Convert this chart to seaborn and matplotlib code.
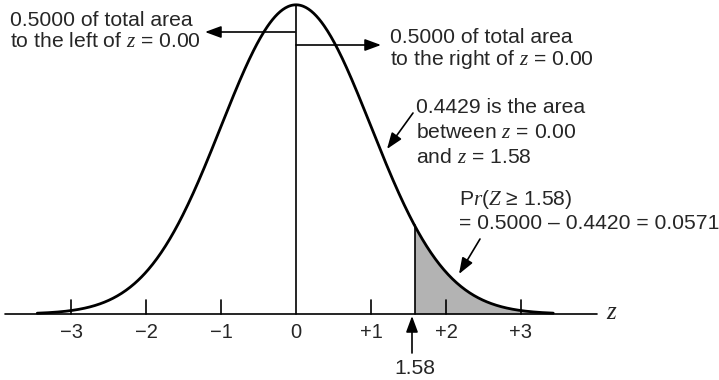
import numpy as np
import pandas as pd
import matplotlib
matplotlib.use("Agg")
import matplotlib.pyplot as plt
import seaborn as sns

# ---- data ----
tick_values = [-3, -2, -1, 0, 1, 2, 3]
tick_labels = ["\u22123", "\u22122", "\u22121", "0", "+1", "+2", "+3"]
z_cut = 1.58
z_lo, z_hi = -3.45, 3.43          # extent of drawn curve
axis_lo, axis_hi = -3.88, 4.01    # extent of horizontal axis line
mean, sd = 0.0, 1.0

sns.set_theme(style="white")
plt.rcParams["font.family"] = ["Liberation Sans", "DejaVu Sans"]
plt.rcParams["mathtext.fontset"] = "custom"
plt.rcParams["mathtext.it"] = "Liberation Serif:italic"
plt.rcParams["mathtext.rm"] = "Liberation Sans"

z = np.linspace(z_lo, z_hi, 600)
pdf = np.exp(-0.5 * ((z - mean) / sd) ** 2) / (sd * np.sqrt(2 * np.pi))
df = pd.DataFrame({"z": z, "pdf": pdf})

def npdf(v):
    return float(np.exp(-0.5 * ((v - mean) / sd) ** 2) / (sd * np.sqrt(2 * np.pi)))

W, H = 719, 380
X0, XS = 296, 75.0    # pixel of z=0, px per unit
Y0, YS = 314, 775.0   # pixel of density 0, px per density unit

def P(px, py):
    return ((px - X0) / XS, (Y0 - py) / YS)

fig = plt.figure(figsize=(W / 100, H / 100), dpi=100)
ax = fig.add_axes([0, 0, 1, 1])
ax.set_xlim((0 - X0) / XS, (W - X0) / XS)
ax.set_ylim((Y0 - H) / YS, Y0 / YS)
ax.axis("off")

# shaded tail
zz = df[df.z >= z_cut]
ax.fill_between(zz.z, 0, zz.pdf, color="#b3b3b3", lw=0, zorder=1)

# curve
sns.lineplot(data=df, x="z", y="pdf", ax=ax, color="black", lw=2.0,
             zorder=3, legend=False)

# axis line
ax.plot([axis_lo, axis_hi], [0, 0], color="black", lw=1.2, zorder=2)
# ticks
tick_h = 14 / YS
for t in tick_values:
    if t != 0:
        ax.plot([t, t], [0, tick_h], color="black", lw=1.2, zorder=2)
# center line and cut line
ax.plot([0, 0], [0, npdf(0)], color="black", lw=1.2, zorder=2)
ax.plot([z_cut, z_cut], [0, npdf(z_cut)], color="black", lw=1.2, zorder=2)

# tick labels
for t, lab in zip(tick_values, tick_labels):
    ax.text(t, P(0, 332)[1], lab, ha="center", va="center", fontsize=14.5)

# axis name
ax.text(*P(612, 312), "$z$", ha="center", va="center", fontsize=18)

arrow_kw = dict(arrowstyle="-|>,head_length=0.65,head_width=0.24",
                color="black", lw=1.2, shrinkA=0, shrinkB=0,
                mutation_scale=15)

def arrow(p_from, p_to):
    ax.annotate("", xy=P(*p_to), xytext=P(*p_from), arrowprops=arrow_kw,
                zorder=4)

arrow((295, 32), (205, 32))
arrow((296, 45), (381, 45))
arrow((413, 113), (387, 149))
arrow((480, 239), (459, 274))
arrow((412, 353), (412, 316))

fs = 15.2
def line(px, py, s):
    ax.text(*P(px, py), s, ha="left", va="baseline", fontsize=fs)

line(10, 26, "0.5000 of total area")
line(10, 47, "to the left of $z$ = 0.00")
line(390, 43, "0.5000 of total area")
line(390, 65, "to the right of $z$ = 0.00")
line(416, 113, "0.4429 is the area")
line(416, 138, "between $z$ = 0.00")
line(416, 163, "and $z$ = 1.58")
line(459, 205, "P$r$($Z$ \u2265 1.58)")
line(459, 229, "= 0.5000 \u2013 0.4420 = 0.0571")

ax.text(*P(415, 368), "1.58", ha="center", va="center", fontsize=fs)

fig.savefig("out.png", dpi=100)
